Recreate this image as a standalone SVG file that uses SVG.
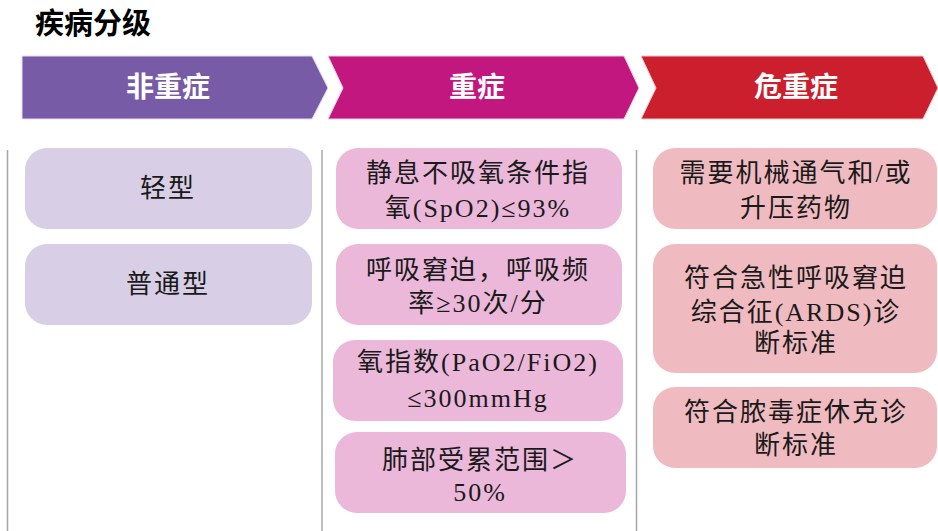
<svg xmlns="http://www.w3.org/2000/svg" width="938" height="531" viewBox="0 0 938 531">
<style>
.title{font-family:"Liberation Sans","Noto Sans CJK SC",sans-serif;font-weight:bold;font-size:29px;fill:#000}
.hd{font-family:"Liberation Serif","Noto Sans CJK SC",serif;font-weight:bold;font-size:28px;fill:#fff;text-anchor:middle}
.t{font-family:"Liberation Serif","Noto Sans CJK SC",serif;font-size:26px;fill:#1a1a1a;text-anchor:middle;letter-spacing:2px}
.c1{fill:#D8CFE6}
.c2{fill:#ECB8DA}
.c3{fill:#F0BBC0}
.div{stroke:#A6A6A6;stroke-width:1.5;fill:none}
</style>
<rect width="938" height="531" fill="#fff"/>
<text class="title" x="35" y="34">疾病分级</text>

<g id="header-1">
<polygon points="22,56 312,56 328,88 312,119 22,119" fill="#775BA6" stroke="#E4DDF0" stroke-width="1"/>
<text class="hd" x="168" y="97">非重症</text>
</g>
<g id="header-2">
<polygon points="328,56 624,56 639,88 624,119 328,119 343,88" fill="#C2177F" stroke="#F2CDE3" stroke-width="1"/>
<text class="hd" x="477" y="97">重症</text>
</g>
<g id="header-3">
<polygon points="641,56 923,56 938,88 923,119 641,119 656,88" fill="#CB1F2D" stroke="#F3C9CC" stroke-width="1"/>
<text class="hd" x="796" y="97">危重症</text>
</g>

<g id="dividers">
<line class="div" x1="7.5" y1="150" x2="7.5" y2="531"/>
<line class="div" x1="322" y1="150" x2="322" y2="531"/>
<line class="div" x1="636.5" y1="150" x2="636.5" y2="531"/>
</g>

<g id="mild">
<rect class="c1" x="25" y="148" width="287" height="81" rx="22"/>
<text class="t" x="168" y="197">轻型</text>
</g>
<g id="moderate">
<rect class="c1" x="25" y="244" width="287" height="81" rx="22"/>
<text class="t" x="168" y="293">普通型</text>
</g>

<g id="severe-1">
<rect class="c2" x="336" y="148" width="286" height="81" rx="22"/>
<text class="t" x="478" y="182">静息不吸氧条件指</text>
<text class="t" x="478" y="217">氧(SpO2)≤93%</text>
</g>
<g id="severe-2">
<rect class="c2" x="336" y="244" width="286" height="81" rx="22"/>
<text class="t" x="478" y="279">呼吸窘迫，呼吸频</text>
<text class="t" x="478" y="312">率≥30次/分</text>
</g>
<g id="severe-3">
<rect class="c2" x="333" y="340" width="290" height="81" rx="22"/>
<text class="t" x="478" y="371">氧指数(PaO2/FiO2)</text>
<text class="t" x="478" y="407">≤300mmHg</text>
</g>
<g id="severe-4">
<rect class="c2" x="335" y="432" width="291" height="81" rx="22"/>
<text class="t" x="480" y="469">肺部受累范围＞</text>
<text class="t" x="480" y="501">50%</text>
</g>

<g id="critical-1">
<rect class="c3" x="653" y="148" width="284" height="81" rx="22"/>
<text class="t" x="796" y="182">需要机械通气和/或</text>
<text class="t" x="796" y="217">升压药物</text>
</g>
<g id="critical-2">
<rect class="c3" x="653" y="244" width="284" height="129" rx="22"/>
<text class="t" x="796" y="287">符合急性呼吸窘迫</text>
<text class="t" x="796" y="321">综合征(ARDS)诊</text>
<text class="t" x="796" y="352">断标准</text>
</g>
<g id="critical-3">
<rect class="c3" x="653" y="387" width="284" height="81" rx="22"/>
<text class="t" x="796" y="421">符合脓毒症休克诊</text>
<text class="t" x="796" y="454">断标准</text>
</g>
</svg>
